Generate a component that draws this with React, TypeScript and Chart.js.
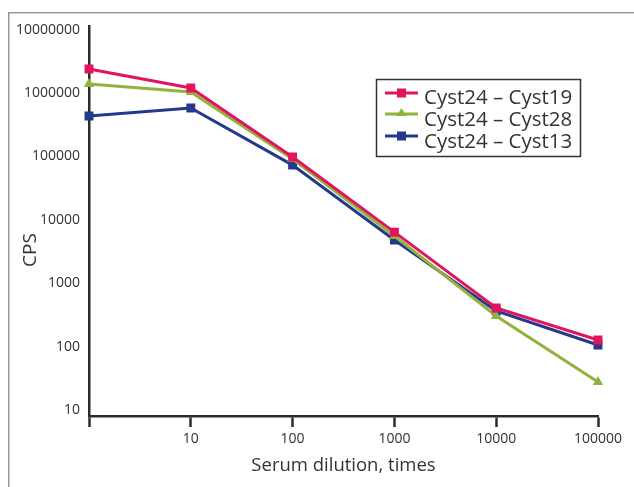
import React, { useEffect, useRef } from 'react';
import { Chart, registerables } from 'chart.js';

Chart.register(...registerables);

const categories = ['', '10', '100', '1000', '10000', '100000'];
const cyst19 = [2390000, 1200000, 98000, 6400, 406, 127];
const cyst28 = [1390000, 1040000, 91000, 5550, 304, 27.7];
const cyst13 = [434000, 580000, 73000, 4800, 365, 106];
const yTickValues = [10, 100, 1000, 10000, 100000, 1000000, 10000000];
const seriesLabels = ['Cyst24 \u2013 Cyst19', 'Cyst24 \u2013 Cyst28', 'Cyst24 \u2013 Cyst13'];
const xTitle = 'Serum dilution, times';
const yTitle = 'CPS';

const RED = '#E2145F';
const GREEN = '#91B23C';
const BLUE = '#22398E';
const TEXT = '#333333';
const AXIS = '#2a2a2a';
const FONT = "'Open Sans', sans-serif";

const decorPlugin = {
  id: 'decor',
  beforeDraw(chart: any) {
    const ctx = chart.ctx;
    ctx.save();
    ctx.strokeStyle = '#9a9a9a';
    ctx.lineWidth = 1.5;
    ctx.beginPath();
    ctx.moveTo(8.75, chart.height);
    ctx.lineTo(8.75, 12.75);
    ctx.lineTo(chart.width, 12.75);
    ctx.stroke();
    ctx.restore();
  },
  afterDraw(chart: any) {
    const ctx = chart.ctx;
    const area = chart.chartArea;
    ctx.save();
    // axis titles
    ctx.fillStyle = TEXT;
    ctx.font = `18.5px ${FONT}`;
    ctx.textAlign = 'center';
    ctx.textBaseline = 'middle';
    ctx.fillText(xTitle, (area.left + area.right) / 2, 466);
    ctx.save();
    ctx.translate(31, 250);
    ctx.rotate(-Math.PI / 2);
    ctx.font = `19px ${FONT}`;
    ctx.fillText(yTitle, 0, 0);
    ctx.restore();

    // legend box
    const bx = 376, by = 79, bw = 204, bh = 77;
    ctx.fillStyle = '#ffffff';
    ctx.fillRect(bx, by, bw, bh);
    ctx.strokeStyle = '#333333';
    ctx.lineWidth = 1.5;
    ctx.strokeRect(bx + 0.5, by + 0.5, bw, bh);
    const rows = [93, 114, 136];
    const textRows = [98, 120, 142];
    chart.data.datasets.forEach((ds: any, i: number) => {
      const y = rows[i];
      ctx.strokeStyle = ds.borderColor;
      ctx.lineWidth = 3;
      ctx.beginPath();
      ctx.moveTo(385, y);
      ctx.lineTo(418, y);
      ctx.stroke();
      ctx.fillStyle = ds.borderColor;
      if (ds.pointStyle === 'triangle') {
        ctx.beginPath();
        ctx.moveTo(401.5, y - 6);
        ctx.lineTo(406.5, y + 2);
        ctx.lineTo(396.5, y + 2);
        ctx.closePath();
        ctx.fill();
      } else {
        ctx.fillRect(397, y - 4.5, 9, 9);
      }
      ctx.fillStyle = TEXT;
      ctx.font = `20.5px ${FONT}`;
      ctx.textAlign = 'left';
      ctx.textBaseline = 'middle';
      ctx.fillText(ds.label, 424, textRows[i]);
    });
    ctx.restore();
  },
};

export default function App() {
  const ref = useRef<HTMLCanvasElement | null>(null);
  useEffect(() => {
    if (!ref.current) return;
    const mk = (label: string, data: number[], color: string, style: string) => ({
      label,
      data,
      borderColor: color,
      backgroundColor: color,
      pointBackgroundColor: color,
      pointBorderColor: color,
      pointStyle: style,
      pointRadius: style === 'triangle' ? 6 : 6.3,
      pointBorderWidth: 0,
      borderWidth: 3,
      tension: 0,
    });
    const chart = new Chart(ref.current, {
      type: 'line',
      data: {
        labels: categories,
        datasets: [
          mk(seriesLabels[0], cyst19, RED, 'rect'),
          mk(seriesLabels[1], cyst28, GREEN, 'triangle'),
          mk(seriesLabels[2], cyst13, BLUE, 'rect'),
        ],
      },
      options: {
        animation: false,
        responsive: false,
        devicePixelRatio: 1,
        layout: { padding: { top: 26, right: 36, left: 0, bottom: 0 } },
        plugins: {
          legend: { display: false },
          tooltip: { enabled: false },
          title: { display: false },
        },
        scales: {
          x: {
            type: 'category',
            offset: false,
            grid: {
              display: true,
              drawOnChartArea: false,
              drawTicks: true,
              tickLength: 11,
              tickWidth: 2.5,
              tickColor: AXIS,
              color: AXIS,
            },
            border: { display: true, color: AXIS, width: 2.5 },
            ticks: {
              color: TEXT,
              font: { family: FONT, size: 14 },
              padding: 4,
              maxRotation: 0,
              autoSkip: false,
            },
            afterFit: (s: any) => {
              s.height = 487 - 416;
            },
          },
          y: {
            type: 'logarithmic',
            min: 8.04,
            max: 11400000,
            grid: { display: true, drawOnChartArea: false, drawTicks: false, color: AXIS },
            border: { display: true, color: AXIS, width: 2.5 },
            afterBuildTicks: (s: any) => {
              s.ticks = yTickValues.map((v) => ({ value: v, major: true }));
            },
            ticks: {
              color: TEXT,
              font: { family: FONT, size: 14 },
              padding: 9,
              callback: (v: any) => String(v),
            },
            afterFit: (s: any) => {
              s.width = 89;
            },
          },
        },
      },
      plugins: [decorPlugin],
    } as any);
    return () => chart.destroy();
  }, []);
  return (
    <div style={{ position: 'fixed', left: 0, top: 0, width: 634, height: 487, background: '#fff' }}>
      <canvas ref={ref} width={634} height={487} style={{ width: 634, height: 487, display: 'block' }} />
    </div>
  );
}
